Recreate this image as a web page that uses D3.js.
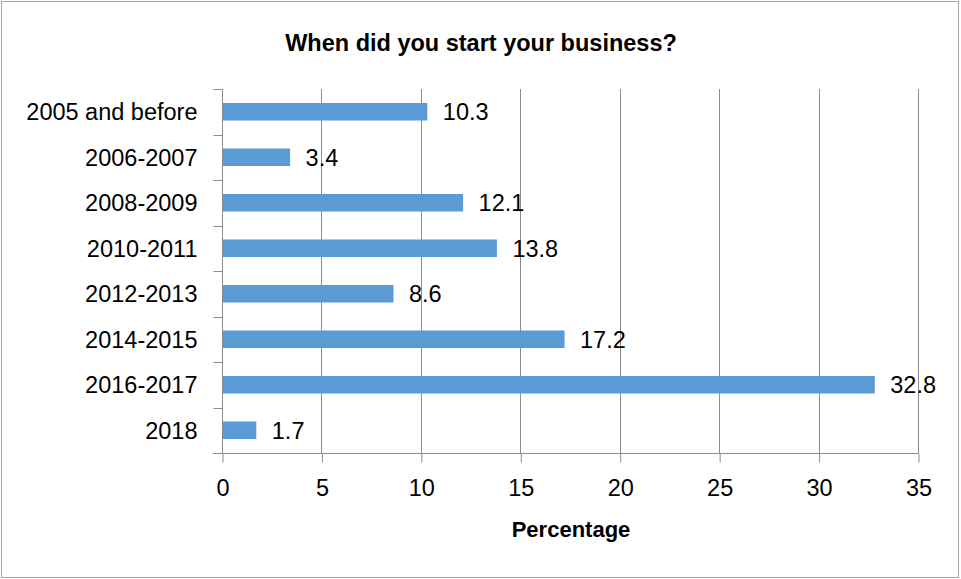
<!DOCTYPE html>
<html>
<head>
<meta charset="utf-8">
<script src="https://cdn.jsdelivr.net/npm/d3@7"></script>
<style>
  html, body { margin: 0; padding: 0; background: #fff; }
  svg { display: block; }
</style>
</head>
<body>
<svg id="chart" width="961" height="579"></svg>
<script>
// Survey answers: start year of the business, share of respondents (%)
const categories = ["2005 and before", "2006-2007", "2008-2009", "2010-2011", "2012-2013", "2014-2015", "2016-2017", "2018"];
const percentages = [10.3, 3.4, 12.1, 13.8, 8.6, 17.2, 32.8, 1.7];
const xTicks = [0, 5, 10, 15, 20, 25, 30, 35];
const titleText = "When did you start your business?";
const xAxisTitle = "Percentage";

const W = 961, H = 579;
const margin = { left: 222, right: 43, top: 89, bottom: 126 };
const font = "'Liberation Sans', Arial, sans-serif";
const labelSize = 23.5;
const axisGrey = "#8c8c8c";
const barColor = "#5b9bd5";

const svg = d3.select("#chart");

// outer frame
svg.append("rect")
  .attr("x", 1.5).attr("y", 1.5)
  .attr("width", W - 4).attr("height", H - 3)
  .attr("fill", "#fff").attr("stroke", "#a6a6a6").attr("stroke-width", 1);

const x = d3.scaleLinear().domain([0, 35]).range([margin.left, W - margin.right]);
const y = d3.scaleBand().domain(categories).range([margin.top, H - margin.bottom]).paddingInner(0.615).paddingOuter(0.3075);
const yBounds = d3.scaleLinear().domain([0, categories.length]).range([margin.top, H - margin.bottom]);

const plotTop = margin.top, plotBottom = H - margin.bottom;

// vertical gridlines
svg.append("g")
  .selectAll("line")
  .data(xTicks.filter(d => d > 0))
  .join("line")
  .attr("x1", d => Math.round(x(d)) + 0.5).attr("x2", d => Math.round(x(d)) + 0.5)
  .attr("y1", plotTop).attr("y2", plotBottom)
  .attr("stroke", axisGrey).attr("stroke-width", 1);

// bars
svg.append("g")
  .selectAll("rect")
  .data(percentages)
  .join("rect")
  .attr("x", x(0) + 0.5)
  .attr("y", (d, i) => y(categories[i]))
  .attr("width", d => x(d) - x(0))
  .attr("height", y.bandwidth())
  .attr("fill", barColor);

// value labels
svg.append("g")
  .selectAll("text")
  .data(percentages)
  .join("text")
  .attr("x", d => x(d) + 16)
  .attr("y", (d, i) => y(categories[i]) + y.bandwidth() / 2)
  .attr("dy", "0.36em")
  .attr("font-family", font).attr("font-size", labelSize)
  .attr("fill", "#000")
  .text(d => d.toFixed(1));

// x axis
const xAxis = d3.axisBottom(x).tickValues(xTicks).tickSize(9).tickPadding(17).tickFormat(d3.format("d"));
const gx = svg.append("g")
  .attr("transform", `translate(0.5,${plotBottom + 0.5})`)
  .call(xAxis);
gx.select(".domain").remove();
gx.append("line").attr("x1", x(0) - 9.5).attr("x2", x(35)).attr("y1", 0).attr("y2", 0).attr("stroke", axisGrey);
gx.selectAll(".tick line").attr("stroke", axisGrey);
gx.selectAll(".tick text").attr("font-family", font).attr("font-size", labelSize).attr("fill", "#000");

// y axis: category labels with tick marks at band edges
const gy = svg.append("g").attr("transform", `translate(${x(0) + 0.5},0)`);
gy.append("line").attr("x1", 0).attr("x2", 0).attr("y1", plotTop).attr("y2", plotBottom).attr("stroke", axisGrey);
gy.selectAll("line.edge")
  .data(d3.range(categories.length + 1))
  .join("line")
  .attr("class", "edge")
  .attr("x1", -9).attr("x2", 0)
  .attr("y1", d => Math.round(yBounds(d)) + 0.5).attr("y2", d => Math.round(yBounds(d)) + 0.5)
  .attr("stroke", axisGrey);
gy.selectAll("text")
  .data(categories)
  .join("text")
  .attr("x", -25)
  .attr("y", d => y(d) + y.bandwidth() / 2)
  .attr("dy", "0.36em")
  .attr("text-anchor", "end")
  .attr("font-family", font).attr("font-size", labelSize)
  .attr("fill", "#000")
  .text(d => d);

// titles
svg.append("text")
  .attr("x", 481).attr("y", 51)
  .attr("text-anchor", "middle")
  .attr("font-family", font).attr("font-size", 23.5).attr("font-weight", "bold")
  .text(titleText);

svg.append("text")
  .attr("x", 571).attr("y", 537)
  .attr("text-anchor", "middle")
  .attr("font-family", font).attr("font-size", 22).attr("font-weight", "bold")
  .text(xAxisTitle);
</script>
</body>
</html>
